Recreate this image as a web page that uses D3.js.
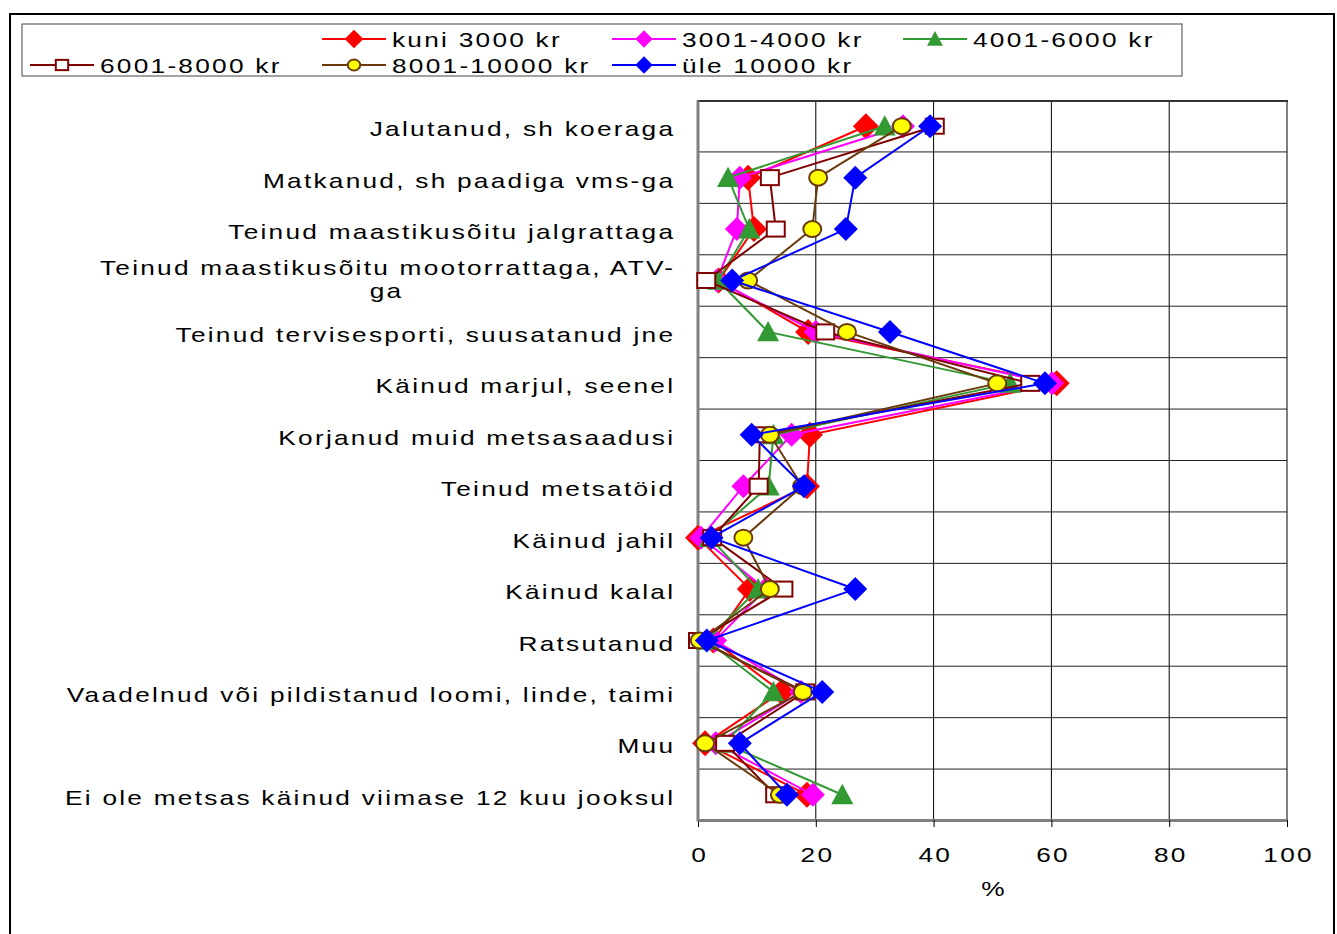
<!DOCTYPE html>
<html><head><meta charset="utf-8">
<script src="https://cdn.jsdelivr.net/npm/d3@7"></script>
<style>
html,body{margin:0;padding:0;background:#fff;}
svg text{font-family:"Liberation Sans",Arial,sans-serif;fill:#000;}
</style></head>
<body>
<svg id="c" width="1337" height="934"></svg>
<script>
const categories = [
  "Jalutanud, sh koeraga",
  "Matkanud, sh paadiga vms-ga",
  "Teinud maastikusõitu jalgrattaga",
  "Teinud maastikusõitu mootorrattaga, ATV-|ga",
  "Teinud tervisesporti, suusatanud jne",
  "Käinud marjul, seenel",
  "Korjanud muid metsasaadusi",
  "Teinud metsatöid",
  "Käinud jahil",
  "Käinud kalal",
  "Ratsutanud",
  "Vaadelnud või pildistanud loomi, linde, taimi",
  "Muu",
  "Ei ole metsas käinud viimase 12 kuu jooksul"
];
const seriesNames = ["kuni 3000 kr","3001-4000 kr","4001-6000 kr","6001-8000 kr","8001-10000 kr","üle 10000 kr"];
const kuni3000  = [28.5, 8.5, 9.5, 3.5, 18.7, 60.9, 19.0, 18.5, 0.0,  8.8, 2.6, 14.2, 1.2, 18.5];
const s3001_4000 = [34.8, 7.1, 6.6, 3.2, 20.0, 60.1, 15.9, 7.7, 0.5, 11.5, 2.9, 17.5, 3.0, 19.5];
const s4001_6000 = [31.7, 5.1, 8.7, 3.4, 11.9, 53.0, 12.8, 12.0, 2.0, 10.2, 1.5, 12.8, 4.5, 24.5];
const s6001_8000 = [40.2, 12.2, 13.2, 1.4, 21.6, 56.4, 10.5, 10.3, 2.4, 14.5, 0.0, 18.2, 4.6, 13.1];
const s8001_10000 = [34.6, 20.4, 19.4, 8.5, 25.3, 50.8, 12.2, 17.7, 7.7, 12.2, 0.3, 17.8, 1.2, 13.9];
const yle10000  = [39.4, 26.7, 25.1, 5.8, 32.6, 58.9, 9.1, 18.0, 2.3, 26.7, 1.5, 21.1, 7.1, 15.1];
const xTicks = [0, 20, 40, 60, 80, 100];
const axisTitle = "%";

const seriesValues = [kuni3000, s3001_4000, s4001_6000, s6001_8000, s8001_10000, yle10000];
const styles = [
  {line:"#FF0000", marker:"diamond", fill:"#FF0000", stroke:"none", size:13},
  {line:"#FF00FF", marker:"diamond", fill:"#FF00FF", stroke:"none", size:12},
  {line:"#339933", marker:"triangle", fill:"#339933", stroke:"none", size:11},
  {line:"#800000", marker:"square", fill:"#FFFFFF", stroke:"#800000", size:10},
  {line:"#6B3A0A", marker:"circle", fill:"#FFFF00", stroke:"#6B3A0A", size:10},
  {line:"#0000FF", marker:"diamond", fill:"#0000FF", stroke:"none", size:12}
];

const LS = 1.8, SX = 1.25, FS = 21;
const svg = d3.select("#c");
const x = d3.scaleLinear().domain([0,100]).range([698,1287]);
const y = d3.scaleBand().domain(categories).range([100.5,820.5]).padding(0);
const yc = c => y(c) + y.bandwidth()/2;

// stretched text helper
function sText(parent, tx, ty, str, anchor){
  const g = parent.append("g").attr("transform",`translate(${tx},${ty}) scale(${SX},1)`);
  const t = g.append("text").attr("x", anchor==="end" ? LS : (anchor==="middle" ? LS/2 : 0)).attr("y",0)
    .attr("text-anchor",anchor||"start").attr("font-size",FS).style("letter-spacing",LS+"px").text(str);
  return t;
}

// outer frame
svg.append("rect").attr("x",10).attr("y",14).attr("width",1324).attr("height",930)
  .attr("fill","none").attr("stroke","#000").attr("stroke-width",2);

// grid
const g = svg.append("g");
g.selectAll("line.v").data(xTicks.slice(1)).join("line")
  .attr("x1",d=>x(d)).attr("x2",d=>x(d)).attr("y1",100.5).attr("y2",820.5)
  .attr("stroke","#000").attr("stroke-width",1);
const bounds = categories.slice(1).map(c=>y(c));
g.selectAll("line.h").data(bounds).join("line")
  .attr("x1",698).attr("x2",1287).attr("y1",d=>d).attr("y2",d=>d)
  .attr("stroke","#222").attr("stroke-width",1);
g.append("line").attr("x1",697).attr("x2",1288).attr("y1",101).attr("y2",101).attr("stroke","#333").attr("stroke-width",2);

// x axis
const xa = svg.append("g").attr("transform","translate(0,820)")
  .call(d3.axisBottom(x).tickValues(xTicks).tickSize(7).tickSizeOuter(0));
xa.select(".domain").attr("stroke","#808080").attr("stroke-width",3);
xa.selectAll(".tick line").attr("stroke","#000");
xa.selectAll(".tick text").remove();
xa.selectAll(".tick").each(function(d){
  sText(d3.select(this), 0, 42, String(d), "middle");
});
svg.append("line").attr("x1",698).attr("x2",698).attr("y1",100.5).attr("y2",821.5)
  .attr("stroke","#808080").attr("stroke-width",3);

sText(svg, 993, 896, axisTitle, "middle");

// category labels
const labels = svg.append("g");
categories.forEach(c=>{
  const parts = c.split("|");
  if(parts.length===1){
    sText(labels, 673, yc(c)+10, parts[0], "end");
  } else {
    const t1 = sText(labels, 673, yc(c)-6, parts[0], "end");
    const w = t1.node().getComputedTextLength()*SX;
    sText(labels, 673 - w/2, yc(c)+17, parts[1], "middle");
  }
});

function drawMarker(sel, st, cx, cy, k){
  const s = st.size*k;
  if(st.marker==="diamond"){
    sel.append("path").attr("d",`M${cx},${cy-s}L${cx+s},${cy}L${cx},${cy+s}L${cx-s},${cy}Z`).attr("fill",st.fill);
  } else if(st.marker==="triangle"){
    sel.append("path").attr("d",`M${cx},${cy-s}L${cx+s},${cy+s*0.85}L${cx-s},${cy+s*0.85}Z`).attr("fill",st.fill);
  } else if(st.marker==="square"){
    sel.append("rect").attr("x",cx-s+1).attr("y",cy-s*0.85+1).attr("width",2*s-2).attr("height",1.7*s-2)
      .attr("fill",st.fill).attr("stroke",st.stroke).attr("stroke-width",2);
  } else {
    sel.append("ellipse").attr("cx",cx).attr("cy",cy).attr("rx",s-1).attr("ry",s*0.9-1)
      .attr("fill",st.fill).attr("stroke",st.stroke).attr("stroke-width",2);
  }
}

// series
const line = d3.line().x(d=>x(d.v)).y(d=>yc(d.c));
seriesValues.forEach((vals,i)=>{
  const st = styles[i];
  const data = vals.map((v,j)=>({v,c:categories[j]}));
  const sg = svg.append("g");
  sg.append("path").datum(data).attr("d",line).attr("fill","none").attr("stroke",st.line).attr("stroke-width",2);
  data.forEach(d=>drawMarker(sg, st, x(d.v), yc(d.c), 1));
});

// legend
svg.append("rect").attr("x",22).attr("y",24).attr("width",1160).attr("height",52)
  .attr("fill","#fff").attr("stroke","#444").attr("stroke-width",1);
const legendPos = [[322,39],[612,39],[903,39],[30,65],[322,65],[612,65]];
seriesNames.forEach((n,i)=>{
  const [lx,ly] = legendPos[i];
  const st = styles[i];
  const lg = svg.append("g");
  lg.append("line").attr("x1",lx).attr("x2",lx+64).attr("y1",ly).attr("y2",ly).attr("stroke",st.line).attr("stroke-width",2);
  drawMarker(lg, st, lx+32, ly, 0.72);
  sText(lg, lx+70, ly+8, n, "start");
});
</script>
</body></html>
